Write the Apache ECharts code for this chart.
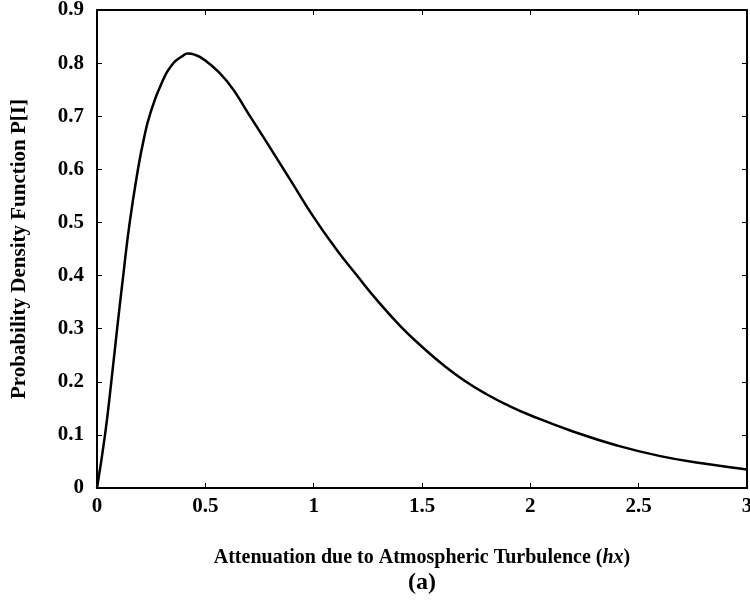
<!DOCTYPE html>
<html>
<head>
<meta charset="utf-8">
<script src="https://cdn.jsdelivr.net/npm/echarts@6/dist/echarts.min.js"></script>
<style>
  html, body { margin: 0; padding: 0; background: #fff; }
  #chart { width: 750px; height: 603px; }
</style>
</head>
<body>
<div id="chart"></div>
<script>
// 曲线数据
const xValues = [0, 0.037, 0.066, 0.093, 0.121, 0.151, 0.187, 0.215, 0.245, 0.3, 0.353, 0.39, 0.42,
    0.45, 0.5, 0.6, 0.7, 0.8, 0.9, 1.0, 1.1, 1.2, 1.3, 1.4, 1.5, 1.6, 1.7, 1.8, 1.9, 2.0,
    2.2, 2.4, 2.6, 2.8, 3.0];
const pdfValues = [0, 0.1, 0.2, 0.3, 0.4, 0.5, 0.595, 0.655, 0.704, 0.764, 0.8, 0.812, 0.818,
    0.816, 0.805, 0.766, 0.704, 0.64, 0.575, 0.51, 0.452, 0.4, 0.35, 0.305, 0.266, 0.231, 0.201,
    0.176, 0.155, 0.137, 0.106, 0.08, 0.06, 0.046, 0.035];

const xTickLabels = ['0', '0.5', '1', '1.5', '2', '2.5', '3'];
const yTickLabels = ['0', '0.1', '0.2', '0.3', '0.4', '0.5', '0.6', '0.7', '0.8', '0.9'];

const FONT = '"Liberation Serif", "DejaVu Serif", serif';

const chart = echarts.init(document.getElementById('chart'));

const seriesData = xValues.map((x, i) => [x, pdfValues[i]]);

const axisLine = { show: true, onZero: false, lineStyle: { color: '#000', width: 2 } };
const axisTick = { show: true, inside: true, length: 5, lineStyle: { color: '#000', width: 1 } };

chart.setOption({
    backgroundColor: '#fff',
    animation: false,
    grid: { left: 97, right: 3, top: 10, bottom: 115, outerBoundsMode: 'none' },
    xAxis: [{
        type: 'value',
        min: 0, max: 3, interval: 0.5,
        axisLine: axisLine,
        axisTick: axisTick,
        splitLine: { show: false },
        axisLabel: {
            margin: 8,
            color: '#000',
            fontFamily: FONT,
            fontWeight: 'bold',
            fontSize: 21,
            formatter: v => xTickLabels[Math.round(v * 2)]
        },
        name: 'Attenuation due to Atmospheric Turbulence ({i|hx})',
        nameLocation: 'middle',
        nameGap: 60,
        nameTextStyle: {
            color: '#000',
            fontFamily: FONT,
            fontWeight: 'bold',
            fontSize: 20,
            rich: {
                i: { fontFamily: FONT, fontWeight: 'bold', fontStyle: 'italic', fontSize: 20, color: '#000' }
            }
        }
    }, {
        type: 'value',
        position: 'top',
        min: 0, max: 3, interval: 0.5,
        axisLine: axisLine,
        axisTick: axisTick,
        axisLabel: { show: false },
        splitLine: { show: false }
    }],
    yAxis: [{
        type: 'value',
        min: 0, max: 0.9, interval: 0.1,
        axisLine: axisLine,
        axisTick: axisTick,
        splitLine: { show: false },
        axisLabel: {
            margin: 13,
            color: '#000',
            fontFamily: FONT,
            fontWeight: 'bold',
            fontSize: 21,
            formatter: v => yTickLabels[Math.round(v * 10)]
        },
        name: 'Probability Density Function P[I]',
        nameLocation: 'middle',
        nameGap: 67,
        nameRotate: 90,
        nameTextStyle: {
            color: '#000',
            fontFamily: FONT,
            fontWeight: 'bold',
            fontSize: 21
        }
    }, {
        type: 'value',
        position: 'right',
        min: 0, max: 0.9, interval: 0.1,
        axisLine: axisLine,
        axisTick: axisTick,
        axisLabel: { show: false },
        splitLine: { show: false }
    }],
    series: [{
        type: 'line',
        data: seriesData,
        smooth: 0.5,
        showSymbol: false,
        lineStyle: { color: '#000', width: 2.5 }
    }],
    graphic: [{
        type: 'text',
        x: 422,
        y: 583,
        style: {
            text: '(a)',
            fill: '#000',
            font: 'bold 24px ' + FONT,
            align: 'center',
            verticalAlign: 'middle'
        }
    }]
});

window.addEventListener('resize', () => chart.resize());
</script>
</body>
</html>
